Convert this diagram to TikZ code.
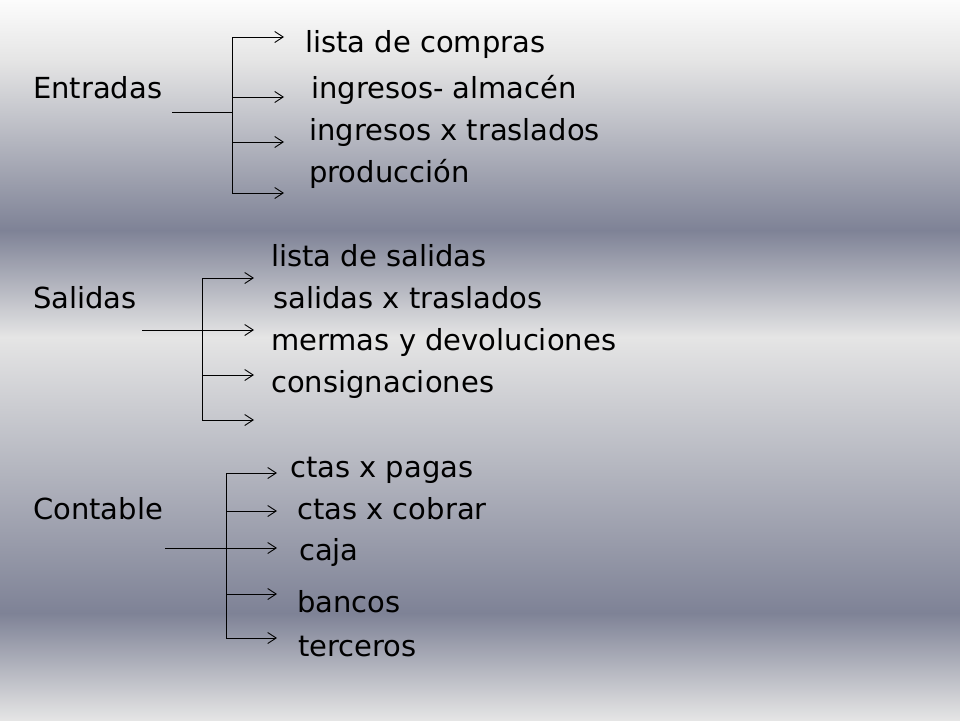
\documentclass[tikz,border=0pt]{standalone}
\usepackage{fontspec}
\setmainfont{DejaVu Sans}
\usetikzlibrary{arrows.meta}
\definecolor{bgwhite}{HTML}{FCFCFC}
\definecolor{bglight}{HTML}{E5E5E5}
\definecolor{bgdark}{HTML}{7E8296}
\tikzset{
  lbl/.style={anchor=base west, inner sep=0pt, font=\fontsize{29}{34}\selectfont, text=black},
  wire/.style={draw=black, line width=0.9pt},
  arr/.style={wire, -{Straight Barb[length=8.5pt,width=11pt,line width=0.9pt]}},
}
\begin{document}
\begin{tikzpicture}[x=1pt,y=-1pt]
\useasboundingbox (0,0) rectangle (960,720);
% background bands
\shade[top color=bgwhite, bottom color=bglight] (0,0) rectangle (960,60.5);
\shade[top color=bglight, bottom color=bgdark] (0,60) rectangle (960,230.5);
\shade[top color=bgdark, bottom color=bglight] (0,230) rectangle (960,337.5);
\shade[top color=bglight, bottom color=bgdark] (0,337) rectangle (960,613.5);
\shade[top color=bgdark, bottom color=bglight] (0,613) rectangle (960,720);

% ---------- Entradas ----------
\node[lbl] (ent) at (33,98) {Entradas};
\node[lbl] (e1) at (305,52) {lista de compras};
\node[lbl] (e2) at (311,98) {ingresos- almacén};
\node[lbl] (e3) at (309,140) {ingresos x traslados};
\node[lbl] (e4) at (309,182) {producción};
\coordinate (eS) at (172,112);
\coordinate (eJ) at (232,112);
\coordinate (eT) at (232,37);
\coordinate (eB) at (232,193);
\coordinate (eA1) at (284,37);
\coordinate (eA2) at (284,97);
\coordinate (eA3) at (284,142);
\coordinate (eA4) at (284,193);
\draw[wire] (eS) -- (eJ);
\draw[wire] (eT) -- (eB);
\draw[arr] (eT) -- (eA1);
\draw[arr] (eA2 -| eT) -- (eA2);
\draw[arr] (eA3 -| eT) -- (eA3);
\draw[arr] (eB) -- (eA4);

% ---------- Salidas ----------
\node[lbl] (sal) at (33,308) {Salidas};
\node[lbl] (s1) at (271,266) {lista de salidas};
\node[lbl] (s2) at (273,308) {salidas x traslados};
\node[lbl] (s3) at (271,350) {mermas y devoluciones};
\node[lbl] (s4) at (271,392) {consignaciones};
\coordinate (sS) at (142,330);
\coordinate (sT) at (202,278);
\coordinate (sB) at (202,420);
\coordinate (sA1) at (254,278);
\coordinate (sA2) at (254,330);
\coordinate (sA3) at (254,375);
\coordinate (sA4) at (254,420);
\draw[wire] (sT) -- (sB);
\draw[arr] (sT) -- (sA1);
\draw[arr] (sS) -- (sA2);
\draw[arr] (sA3 -| sT) -- (sA3);
\draw[arr] (sB) -- (sA4);

% ---------- Contable ----------
\node[lbl] (con) at (33,519) {Contable};
\node[lbl] (c1) at (290,477) {ctas x pagas};
\node[lbl] (c2) at (297,519) {ctas x cobrar};
\node[lbl] (c3) at (299,560) {caja};
\node[lbl] (c4) at (297,612) {bancos};
\node[lbl] (c5) at (298,656) {terceros};
\coordinate (cS) at (165,548);
\coordinate (cT) at (226,473);
\coordinate (cB) at (226,638);
\coordinate (cA1) at (277,473);
\coordinate (cA2) at (277,511);
\coordinate (cA3) at (277,548);
\coordinate (cA4) at (277,594);
\coordinate (cA5) at (277,638);
\draw[wire] (cT) -- (cB);
\draw[arr] (cT) -- (cA1);
\draw[arr] (cA2 -| cT) -- (cA2);
\draw[arr] (cS) -- (cA3);
\draw[arr] (cA4 -| cT) -- (cA4);
\draw[arr] (cB) -- (cA5);
\end{tikzpicture}
\end{document}
